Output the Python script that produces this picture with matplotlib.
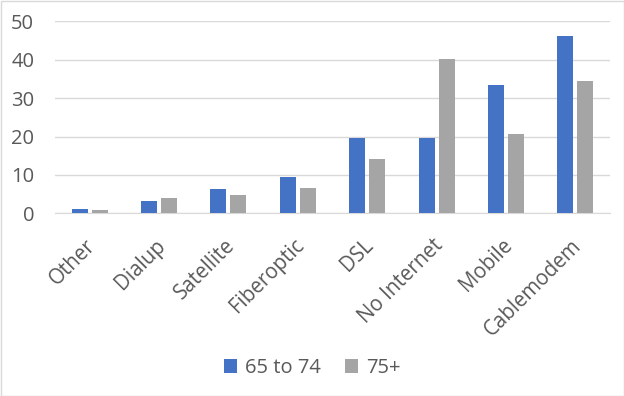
import matplotlib
matplotlib.use("Agg")
import matplotlib.pyplot as plt
import matplotlib.transforms as mtransforms
import numpy as np

categories = ["Other", "Dialup", "Satellite", "Fiberoptic", "DSL", "No Internet", "Mobile", "Cablemodem"]
age_65_74 = [1.1, 3.2, 6.3, 9.5, 19.6, 19.6, 33.4, 46.2]
age_75_plus = [0.9, 4.0, 4.8, 6.6, 14.1, 40.2, 20.7, 34.5]
series_names = ["65 to 74", "75+"]

plt.rcParams['font.family'] = ['Open Sans', 'DejaVu Sans']

fig = plt.figure(figsize=(6.24, 3.96), dpi=100)
ax = fig.add_axes([55/624, 1 - 213.3/396, (610-55)/624, (213.3-21.3)/396])

x = np.arange(len(categories))
w = 0.23
off = 0.144
ax.bar(x - off, age_65_74, width=w, color="#4472C4", label=series_names[0], zorder=3)
ax.bar(x + off, age_75_plus, width=w, color="#A5A5A5", label=series_names[1], zorder=3)

ax.set_xlim(-0.5, len(categories) - 0.5)
ax.set_ylim(0, 50)
ax.set_yticks([0, 10, 20, 30, 40, 50])
ax.yaxis.grid(True, color="#D9D9D9", linewidth=1, zorder=0)
for s in ["top", "right", "left"]:
    ax.spines[s].set_visible(False)
ax.spines["bottom"].set_color("#D9D9D9")
ax.tick_params(axis="y", length=0, labelsize=14.5, colors="#595959", pad=15)
ax.tick_params(axis="x", length=0, labelsize=14.8, colors="#595959", pad=21)
ax.set_xticks(x)
ax.set_xticklabels(categories, rotation=45, ha="right", va="center", rotation_mode="anchor")
shift = mtransforms.ScaledTranslation(3/100, 0, fig.dpi_scale_trans)
for lab in ax.get_xticklabels():
    lab.set_transform(lab.get_transform() + shift)

ax.legend(loc="center", bbox_to_anchor=(0.5, 1 - 368/396), bbox_transform=fig.transFigure,
          ncol=2, frameon=False, fontsize=14.5, handlelength=0.65, handleheight=0.65,
          handletextpad=0.4, columnspacing=1.2, labelcolor="#595959")

fig.patches.append(plt.Rectangle((0.5/624, 0.5/396), 1 - 1/624, 1 - 1/396, transform=fig.transFigure,
                                 fill=False, edgecolor="#D9D9D9", linewidth=1))
fig.savefig("out.png", dpi=100)
